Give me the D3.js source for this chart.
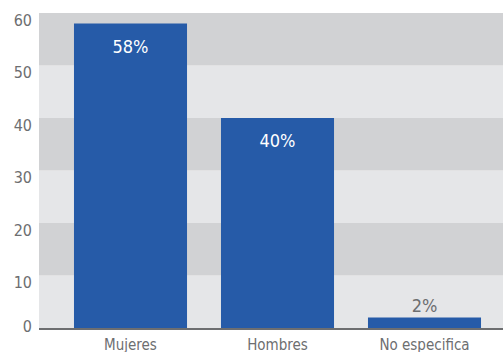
<!DOCTYPE html>
<html>
<head>
<meta charset="utf-8">
<script src="https://cdn.jsdelivr.net/npm/d3@7"></script>
<style>
  body { margin: 0; background: #fff; }
  text { font-family: "Liberation Sans Narrow", "DejaVu Sans Condensed", sans-serif; }
</style>
</head>
<body>
<svg width="503" height="352"></svg>
<script>
var categories = ["Mujeres", "Hombres", "No especifica"];
var values = [58, 40, 2];
var tickValues = [0, 10, 20, 30, 40, 50, 60];

var svg = d3.select("svg"),
    plotLeft = 39, plotRight = 516, plotTop = 13, plotBottom = 328;

var x = d3.scaleBand()
    .domain(categories)
    .range([plotLeft, plotRight])
    .paddingInner(0.231)
    .paddingOuter(0.238);

var y = d3.scaleLinear()
    .domain([0, 60])
    .range([plotBottom, plotTop]);

// alternating bands
var bands = d3.range(0, 60, 10);
svg.append("g")
    .selectAll("rect")
    .data(bands)
    .enter().append("rect")
    .attr("x", plotLeft)
    .attr("width", plotRight - plotLeft)
    .attr("y", function(d) { return y(d + 10); })
    .attr("height", function(d) { return y(d) - y(d + 10); })
    .attr("fill", function(d) { return (d / 10) % 2 === 0 ? "#e5e6e8" : "#d1d2d4"; });

// y labels
svg.append("g")
    .selectAll("text")
    .data(tickValues)
    .enter().append("text")
    .attr("x", 32)
    .attr("y", function(d) { return Math.min(y(d) + 7, y(0) - 2); })
    .attr("dy", "0.35em")
    .attr("text-anchor", "end")
    .attr("fill", "#6d6e70")
    .attr("font-size", 16)
    .text(function(d) { return d; });

// bars
svg.append("g")
    .selectAll("rect")
    .data(values)
    .enter().append("rect")
    .attr("x", function(d, i) { return x(categories[i]); })
    .attr("width", x.bandwidth())
    .attr("y", function(d) { return y(d); })
    .attr("height", function(d) { return y(0) - y(d); })
    .attr("fill", "#265ba8");

// value labels
svg.append("g")
    .selectAll("text")
    .data(values)
    .enter().append("text")
    .attr("x", function(d, i) { return x(categories[i]) + x.bandwidth() / 2; })
    .attr("y", function(d) { return d > 10 ? y(d) + 23 : y(d) - 12; })
    .attr("dy", "0.35em")
    .attr("text-anchor", "middle")
    .attr("fill", function(d) { return d > 10 ? "#ffffff" : "#6d6e70"; })
    .attr("font-size", 18)
    .text(function(d) { return d + "%"; });

// baseline
svg.append("line")
    .attr("x1", plotLeft).attr("x2", plotRight)
    .attr("y1", y(0) + 1).attr("y2", y(0) + 1)
    .attr("stroke", "#6d6e70")
    .attr("stroke-width", 2);

// category labels
svg.append("g")
    .selectAll("text")
    .data(categories)
    .enter().append("text")
    .attr("x", function(d) { return x(d) + x.bandwidth() / 2; })
    .attr("y", 345)
    .attr("dy", "0.35em")
    .attr("text-anchor", "middle")
    .attr("fill", "#6d6e70")
    .attr("font-size", 15)
    .text(function(d) { return d; });
</script>
</body>
</html>
